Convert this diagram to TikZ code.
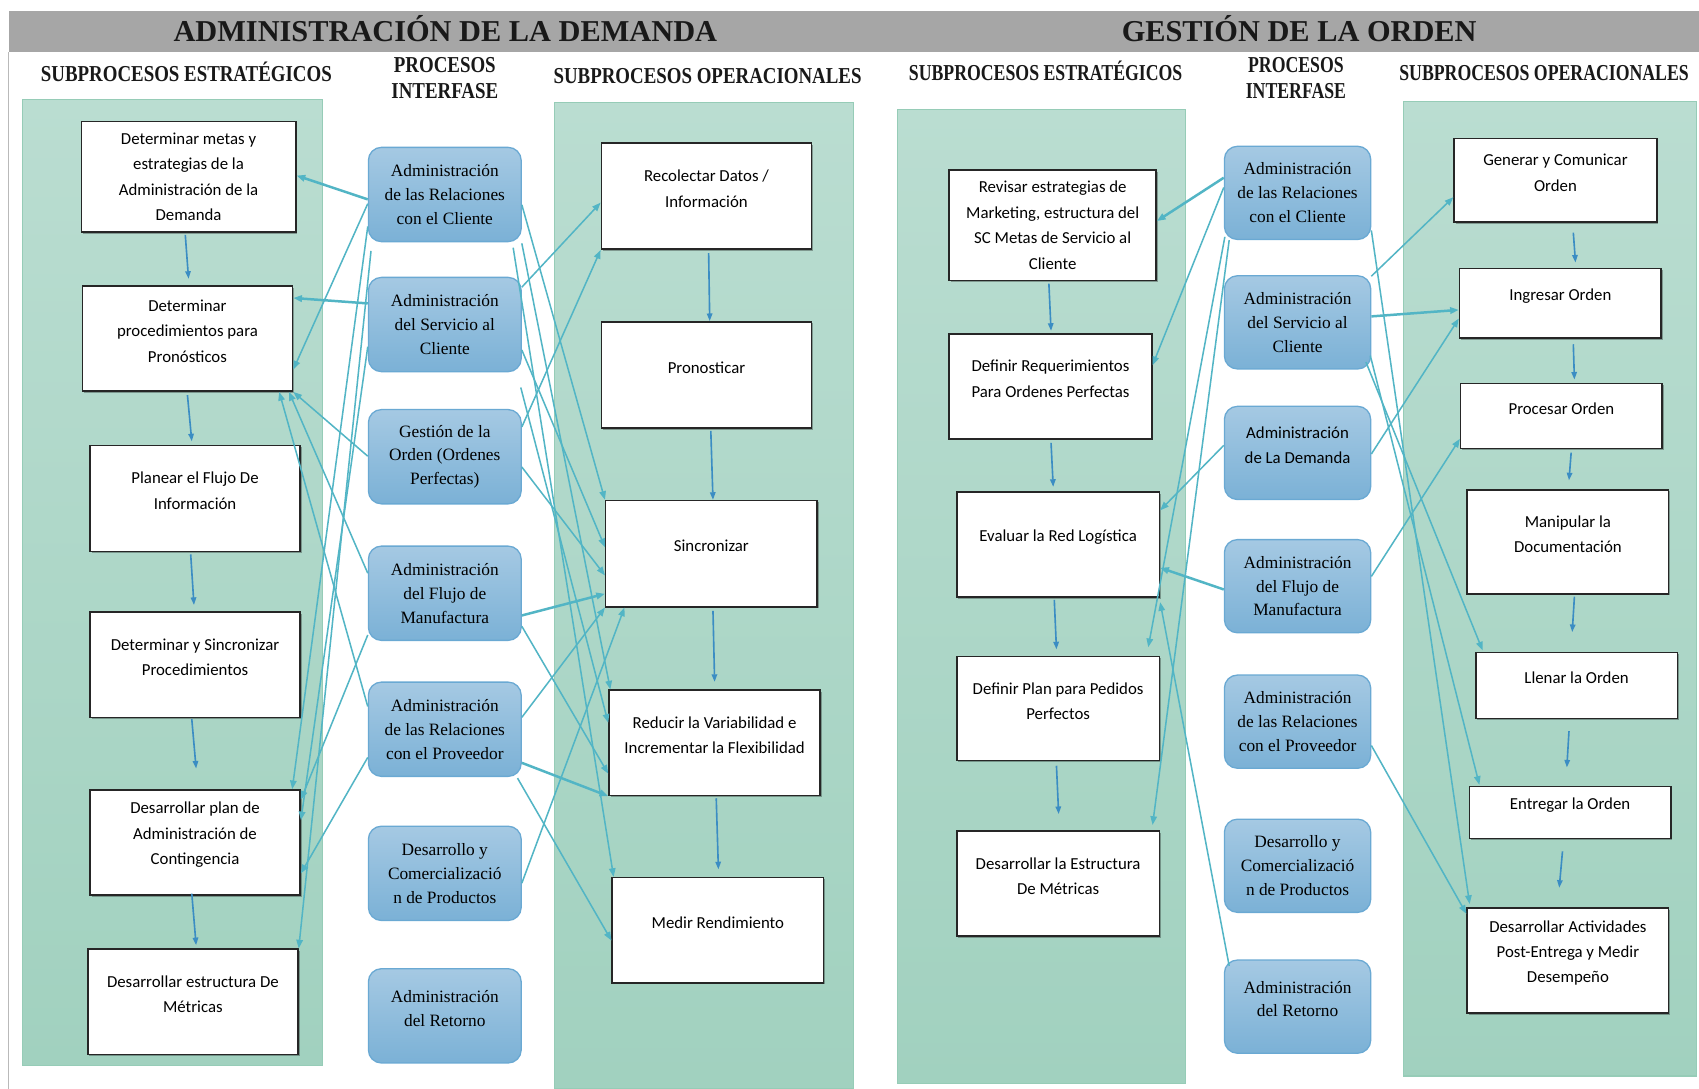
\documentclass[tikz,border=0pt]{standalone}
\usepackage{fontspec}
\usetikzlibrary{calc,arrows.meta,shadows}

\newfontfamily\hdrfont{Liberation Serif}
\newfontfamily\subhdrfontL{Liberation Serif}[FakeStretch=0.83]
\newfontfamily\subhdrfontR{Liberation Serif}[FakeStretch=0.78]
\newfontfamily\ifacefont{Liberation Serif}
\newfontfamily\boxfont{Carlito}

\definecolor{hdrgray}{HTML}{A6A6A6}
\definecolor{paneltop}{HTML}{BADDD1}
\definecolor{panelbot}{HTML}{A1D1BF}
\definecolor{panelline}{HTML}{96CCB7}
\definecolor{ifacetop}{HTML}{A5C9E3}
\definecolor{ifacebot}{HTML}{7BB1D6}
\definecolor{ifaceline}{HTML}{6AA9D3}
\definecolor{linkteal}{HTML}{52B5C5}
\definecolor{flowblue}{HTML}{3B8DC3}

\tikzset{
  panel/.style={draw=panelline, line width=1pt, top color=paneltop, bottom color=panelbot},
  subbox/.style={draw=black!85, line width=1.4pt, fill=white, inner sep=0pt,
    drop shadow={shadow xshift=1.5pt, shadow yshift=-1.5pt, fill=black, opacity=0.3}},
  subtext/.style={font=\boxfont\fontsize{15.5}{23.5}\selectfont, align=center, inner sep=0pt},
  iface/.style={draw=ifaceline, line width=1.2pt, rounded corners=12pt,
    top color=ifacetop, bottom color=ifacebot, inner sep=0pt},
  ifacetext/.style={font=\ifacefont\fontsize{16}{22}\selectfont, align=center, inner sep=0pt},
  stxt/.style={label={[subtext, yshift=7pt]center:{#1}}},
  stxtc/.style={label={[subtext]center:{#1}}},
  itxt/.style={label={[ifacetext]center:{#1}}},
  itxtu/.style={label={[ifacetext, yshift=7pt]center:{#1}}},
  link/.style={draw=linkteal, line width=1.4pt, -{Triangle[length=8pt,width=6pt]}},
  thicklink/.style={link, line width=2.3pt},
  flow/.style={draw=flowblue, line width=1.5pt, -{Triangle[length=7pt,width=5pt]}},
  header/.style={font=\hdrfont\bfseries\fontsize{28}{30}\selectfont, text=black!90, anchor=base, inner sep=0pt},
  subhdrL/.style={font=\subhdrfontL\bfseries\fontsize{21}{24}\selectfont, text=black!90, anchor=base, inner sep=0pt},
  subhdrR/.style={font=\subhdrfontR\bfseries\fontsize{21}{24}\selectfont, text=black!90, anchor=base, inner sep=0pt}
}

\begin{document}
\begin{tikzpicture}[x=1pt, y=-1pt]
\useasboundingbox (0,0) rectangle (1568,1005);
\fill[white] (0,0) rectangle (1568,1005);

% title bar and left rule
\fill[hdrgray] (8,10) rectangle (1568,48);
\draw[gray!55, line width=1pt] (8,48) -- (8,1005);

\node[header] (tA) at (411,38.5) {ADMINISTRACIÓN DE LA DEMANDA};
\node[header] (tB) at (1199,38.5) {GESTIÓN DE LA ORDEN};

\node[subhdrL] (hA1) at (172,75.5) {SUBPROCESOS ESTRATÉGICOS};
\node[subhdrL] (hA2) at (410.5,67) {PROCESOS};
\node[subhdrL] (hA3) at (410.5,91) {INTERFASE};
\node[subhdrL] (hA4) at (653,77) {SUBPROCESOS OPERACIONALES};
\node[subhdrR] (hB1) at (965,74) {SUBPROCESOS ESTRATÉGICOS};
\node[subhdrR] (hB2) at (1196,67) {PROCESOS};
\node[subhdrR] (hB3) at (1196,91) {INTERFASE};
\node[subhdrR] (hB4) at (1425,74) {SUBPROCESOS OPERACIONALES};

% column panels
\path[panel] (21,92) rectangle (298,983);
\path[panel] (512,95) rectangle (788,1005);
\path[panel] (828,101) rectangle (1094,1000);
\path[panel] (1295,94) rectangle (1566,993);

% ---- Administracion de la demanda: strategic subprocesses
\node[subbox, minimum width=198pt, minimum height=102pt,
  stxtc={Determinar metas y\\estrategias de la\\Administración de la\\Demanda}] (se1) at (174,163) {};
\node[subbox, minimum width=194pt, minimum height=97pt,
  stxt={Determinar\\procedimientos para\\Pronósticos}] (se2) at (173,312.5) {};
\node[subbox, minimum width=194pt, minimum height=98pt,
  stxt={Planear el Flujo De\\Información}] (se3) at (180,460) {};
\node[subbox, minimum width=194pt, minimum height=97pt,
  stxt={Determinar y Sincronizar\\Procedimientos}] (se4) at (180,613.5) {};
\node[subbox, minimum width=194pt, minimum height=97pt,
  stxt={Desarrollar plan de\\Administración de\\Contingencia}] (se5) at (180,777.5) {};
\node[subbox, minimum width=194pt, minimum height=97pt,
  stxt={Desarrollar estructura De\\Métricas}] (se6) at (178,924.5) {};

% ---- interface processes (left)
\node[iface, minimum width=141pt, minimum height=87pt,
  itxt={Administración\\de las Relaciones\\con el Cliente}] (i1) at (410.5,179.5) {};
\node[iface, minimum width=141pt, minimum height=87pt,
  itxt={Administración\\del Servicio al\\Cliente}] (i2) at (410.5,299.5) {};
\node[iface, minimum width=141pt, minimum height=87pt,
  itxt={Gestión de la\\Orden (Ordenes\\Perfectas)}] (i3) at (410.5,421.5) {};
\node[iface, minimum width=141pt, minimum height=87pt,
  itxt={Administración\\del Flujo de\\Manufactura}] (i4) at (410.5,547.5) {};
\node[iface, minimum width=141pt, minimum height=87pt,
  itxt={Administración\\de las Relaciones\\con el Proveedor}] (i5) at (410.5,673) {};
\node[iface, minimum width=141pt, minimum height=87pt,
  itxt={Desarrollo y\\Comercializació\\n de Productos}] (i6) at (410.5,806) {};
\node[iface, minimum width=141pt, minimum height=87pt,
  itxtu={Administración\\del Retorno}] (i7) at (410.5,937.5) {};

% ---- operational subprocesses (left)
\node[subbox, minimum width=194pt, minimum height=98pt,
  stxt={Recolectar Datos /\\Información}] (o1) at (652,181) {};
\node[subbox, minimum width=194pt, minimum height=98pt,
  stxt={Pronosticar}] (o2) at (652,346) {};
\node[subbox, minimum width=195pt, minimum height=98pt,
  stxt={Sincronizar}] (o3) at (656.5,511) {};
\node[subbox, minimum width=195pt, minimum height=97pt,
  stxt={Reducir la Variabilidad e\\Incrementar la Flexibilidad}] (o4) at (659.5,685.5) {};
\node[subbox, minimum width=195pt, minimum height=97pt,
  stxt={Medir Rendimiento}] (o5) at (662.5,858.5) {};

% ---- Gestion de la orden: strategic subprocesses
\node[subbox, minimum width=191pt, minimum height=102pt,
  stxtc={Revisar estrategias de\\Marketing, estructura del\\SC Metas de Servicio al\\Cliente}] (rs1) at (971.5,208) {};
\node[subbox, minimum width=187pt, minimum height=97pt,
  stxt={Definir Requerimientos\\Para Ordenes Perfectas}] (rs2) at (969.5,356.5) {};
\node[subbox, minimum width=187pt, minimum height=97pt,
  stxt={Evaluar la Red Logística}] (rs3) at (976.5,502.5) {};
\node[subbox, minimum width=187pt, minimum height=96pt,
  stxt={Definir Plan para Pedidos\\Perfectos}] (rs4) at (976.5,654) {};
\node[subbox, minimum width=187pt, minimum height=97pt,
  stxt={Desarrollar la Estructura\\De Métricas}] (rs5) at (976.5,815.5) {};

% ---- interface processes (right)
\node[iface, minimum width=135pt, minimum height=86pt,
  itxt={Administración\\de las Relaciones\\con el Cliente}] (ri1) at (1197.5,178) {};
\node[iface, minimum width=135pt, minimum height=86pt,
  itxt={Administración\\del Servicio al\\Cliente}] (ri2) at (1197.5,297.5) {};
\node[iface, minimum width=135pt, minimum height=86pt,
  label={[subtext, yshift=7pt]center:{Administración\\de La Demanda}}] (ri3) at (1197.5,418) {};
\node[iface, minimum width=135pt, minimum height=86pt,
  itxt={Administración\\del Flujo de\\Manufactura}] (ri4) at (1197.5,541) {};
\node[iface, minimum width=135pt, minimum height=86pt,
  itxt={Administración\\de las Relaciones\\con el Proveedor}] (ri5) at (1197.5,666) {};
\node[iface, minimum width=135pt, minimum height=86pt,
  itxt={Desarrollo y\\Comercializació\\n de Productos}] (ri6) at (1197.5,799) {};
\node[iface, minimum width=135pt, minimum height=86pt,
  itxtu={Administración\\del Retorno}] (ri7) at (1197.5,929) {};

% ---- operational subprocesses (right)
\node[subbox, minimum width=187pt, minimum height=77pt,
  stxt={Generar y Comunicar\\Orden}] (ro1) at (1435.5,166.5) {};
\node[subbox, minimum width=186pt, minimum height=64pt,
  stxt={Ingresar Orden}] (ro2) at (1440,280) {};
\node[subbox, minimum width=186pt, minimum height=60pt,
  stxt={Procesar Orden}] (ro3) at (1441,384) {};
\node[subbox, minimum width=186pt, minimum height=96pt,
  stxt={Manipular la\\Documentación}] (ro4) at (1447,500) {};
\node[subbox, minimum width=186pt, minimum height=61pt,
  stxt={Llenar la Orden}] (ro5) at (1455,632.5) {};
\node[subbox, minimum width=186pt, minimum height=48pt,
  stxt={Entregar la Orden}] (ro6) at (1449,750) {};
\node[subbox, minimum width=186pt, minimum height=97pt,
  stxt={Desarrollar Actividades\\Post-Entrega y Medir\\Desempeño}] (ro7) at (1447,886.5) {};

% ---- flow between subprocesses
\draw[flow] ($(se1.south)+(-3,2)$) -- ($(se2.north)+(1,-6)$);
\draw[flow] ($(se2.south)+(0,3)$) -- ($(se3.north)+(-3,-3)$);
\draw[flow] ($(se3.south)+(-4,2)$) -- ($(se4.north)+(-1,-6)$);
\draw[flow] ($(se4.south)+(-3,1)$) -- ($(se5.north)+(1,-19)$);
\draw[flow] ($(se5.south)+(-3,-2)$) -- ($(se6.north)+(3,-3)$);

\draw[flow] ($(o1.south)+(2,3)$) -- ($(o2.north)+(3,0)$);
\draw[flow] ($(o2.south)+(4,2)$) -- ($(o3.north)+(1.5,0)$);
\draw[flow] ($(o3.south)+(1.5,3)$) -- ($(o4.north)+(0,-7)$);
\draw[flow] ($(o4.south)+(1.5,2)$) -- ($(o5.north)+(0.5,-7)$);

\draw[flow] ($(rs1.south)+(-3.5,2)$) -- ($(rs2.north)+(0.5,-2)$);
\draw[flow] ($(rs2.south)+(0.5,3)$) -- ($(rs3.north)+(-4.5,-4)$);
\draw[flow] ($(rs3.south)+(-3.5,2)$) -- ($(rs4.north)+(-1.5,-6)$);
\draw[flow] ($(rs4.south)+(-1.5,4)$) -- ($(rs5.north)+(0.5,-15)$);

\draw[flow] ($(ro1.south)+(16.5,9)$) -- ($(ro2.north)+(14,-5)$);
\draw[flow] ($(ro2.south)+(12,5)$) -- ($(ro3.north)+(12,-3)$);
\draw[flow] ($(ro3.south)+(9,3)$) -- ($(ro4.north)+(1,-8)$);
\draw[flow] ($(ro4.south)+(6,2)$) -- ($(ro5.north)+(-4,-18)$);
\draw[flow] ($(ro5.south)+(-7,11)$) -- ($(ro6.north)+(-3,-17)$);
\draw[flow] ($(ro6.south)+(-7,11)$) -- ($(ro7.north)+(-8,-18)$);

% ---- interface -> strategic (left)
\draw[thicklink] ($(i1.west)+(0,4.5)$) -- ($(se1.east)+(0,-1)$);
\draw[link] ($(i1.west)+(0,8.5)$) -- ($(se2.east)+(0,28.5)$);
\draw[thicklink] ($(i2.west)+(0,-19.5)$) -- ($(se2.east)+(0,-37.5)$);
\draw[link] ($(i3.west)+(0,-0.5)$) -- (se2.south east);
\draw[link] ($(i4.west)+(0,-18.5)$) -- ($(se2.south east)+(-4,0)$);
\draw[link] ($(i5.west)+(0,-21)$) -- ($(se2.south east)+(-13,0)$);
\draw[link] ($(i1.west)+(0,29.5)$) -- ($(se5.north east)+(-8,0)$);
\draw[link] ($(i1.south west)+(3,8)$) -- (se6.north east);
\draw[link] ($(i2.west)+(0,20.5)$) -- ($(se5.east)+(0,-20.5)$);
\draw[link] ($(i4.west)+(0,38.5)$) -- ($(se5.east)+(0,-39.5)$);
\draw[link] ($(i5.west)+(0,26)$) -- ($(se5.east)+(0,28.5)$);

% ---- interface -> operational (left)
\draw[link] ($(i1.east)+(0,9.5)$) -- (o3.north west);
\draw[link] ($(i2.east)+(0,-34.5)$) -- ($(o1.west)+(0,6)$);
\draw[link] ($(i3.east)+(0,-27.5)$) -- (o1.south west);
\draw[link] ($(i2.east)+(0,23.5)$) -- ($(o3.west)+(0,-6)$);
\draw[link] ($(i3.east)+(0,9.5)$) -- ($(o3.west)+(0,20)$);
\draw[thicklink] ($(i4.east)+(0,20.5)$) -- ($(o3.west)+(0,37)$);
\draw[link] ($(i5.east)+(0,-11)$) -- (o3.south west);
\draw[link] ($(i6.east)+(0,9)$) -- ($(o3.south west)+(18,0)$);
\draw[link] ($(i4.east)+(0,30.5)$) -- ($(o4.west)+(0,28.5)$);
\draw[thicklink] ($(i5.east)+(0,31)$) -- (o4.south west);
\draw[link] ($(i5.south east)+(-4,1)$) -- ($(o5.west)+(0,9.5)$);
\draw[link] ($(i1.south east)+(-8,5)$) -- ($(o5.north west)+(2,0)$);
\draw[link] ($(i1.south east)+(0,1)$) -- ($(o4.north west)+(2,0)$);
\draw[link] ($(i2.south east)+(-1,14)$) -- ($(o4.west)+(0,-18.5)$);

% ---- interface -> strategic (right)
\draw[thicklink] ($(ri1.west)+(0,-14)$) -- ($(rs1.east)+(0,-4)$);
\draw[link] ($(ri1.west)+(0,-5)$) -- ($(rs2.east)+(0,-19.5)$);
\draw[link] ($(ri1.south west)+(1,-3)$) -- ($(rs4.north east)+(-11,-8)$);
\draw[link] ($(ri1.south west)+(5,0)$) -- ($(rs5.north east)+(-7,-5)$);
\draw[link] ($(ri3.west)+(0,-7)$) -- ($(rs3.east)+(0,-31.5)$);
\draw[thicklink] ($(ri4.west)+(0,3)$) -- ($(rs3.east)+(0,21.5)$);
\draw[link] ($(ri7.north west)+(5,6)$) -- ($(rs3.south east)+(0,4)$);

% ---- interface -> operational (right)
\draw[link] ($(ri2.north east)+(0,1)$) -- ($(ro1.west)+(0,15.5)$);
\draw[thicklink] ($(ri2.east)+(0,-5.5)$) -- ($(ro2.west)+(0,6)$);
\draw[link] ($(ri3.east)+(0,1)$) -- ($(ro2.west)+(0,14)$);
\draw[link] ($(ri4.east)+(0,-9)$) -- ($(ro3.west)+(0,21)$);
\draw[link] ($(ri5.east)+(0,22)$) -- ($(ro7.north west)+(0,6)$);
\draw[link] ($(ri1.south east)+(0,-9)$) -- ($(ro7.north west)+(3,-3)$);
\draw[link] ($(ri2.south east)+(-5,-7)$) -- ($(ro5.north west)+(7,-1)$);
\draw[link] ($(ri2.south east)+(-1,-13)$) -- ($(ro6.north west)+(10,-1)$);
\end{tikzpicture}
\end{document}
